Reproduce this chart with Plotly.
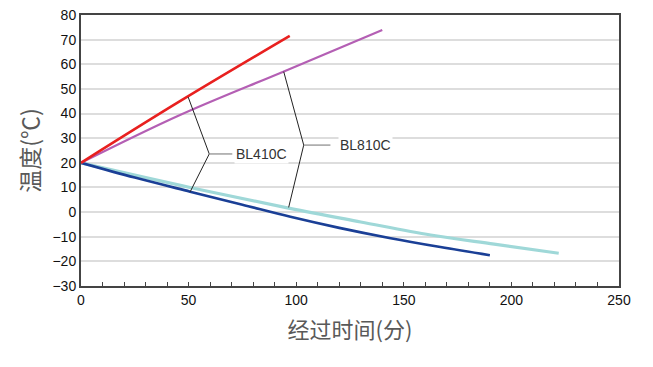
import plotly.graph_objects as go

# Data (time in minutes, temperature in °C)
bl410_heat_x = [0, 46, 97]
bl410_heat_y = [20, 45.0, 71.5]
bl810_heat_x = [0, 46, 94, 140]
bl810_heat_y = [20, 39.4, 57.0, 73.9]
bl410_cool_x = [0, 25, 50.7, 75, 97.3, 120, 143.9, 167, 190]
bl410_cool_y = [20, 14.0, 8.3, 3.0, -1.9, -6.4, -10.6, -14.2, -17.5]
bl810_cool_x = [0, 50.7, 97, 130, 162.5, 192, 222]
bl810_cool_y = [20, 10.0, 1.5, -4.0, -9.3, -13.0, -16.7]

x_ticks = [0, 50, 100, 150, 200, 250]
y_ticks = [-30, -20, -10, 0, 10, 20, 30, 40, 50, 60, 70, 80]

# leader lines (data coordinates)
lead410 = dict(vertex=(59.6, 23.6), up=(49.8, 46.7), down=(50.7, 8.2), hend=70.3, label="BL410C")
lead810 = dict(vertex=(103.5, 27.2), up=(94.2, 57.0), down=(96.5, 1.9), hend=115.9, label="BL810C")

fig = go.Figure()
fig.add_trace(go.Scatter(x=bl810_cool_x, y=bl810_cool_y, mode="lines", line_shape="spline",
                         line=dict(color="#9fd8d8", width=3.2), name="BL810C cool"))
fig.add_trace(go.Scatter(x=bl410_cool_x, y=bl410_cool_y, mode="lines", line_shape="spline",
                         line=dict(color="#1a3f96", width=2.6), name="BL410C cool"))
fig.add_trace(go.Scatter(x=bl810_heat_x, y=bl810_heat_y, mode="lines", line_shape="spline",
                         line=dict(color="#b45fb4", width=2.2), name="BL810C heat"))
fig.add_trace(go.Scatter(x=bl410_heat_x, y=bl410_heat_y, mode="lines", line_shape="spline",
                         line=dict(color="#e8201f", width=2.6), name="BL410C heat"))

shapes = []
for ld in (lead410, lead810):
    vx, vy = ld["vertex"]
    for ex, ey in (ld["up"], ld["down"]):
        shapes.append(dict(type="line", xref="x", yref="y", x0=vx, y0=vy, x1=ex, y1=ey,
                           line=dict(color="#222222", width=1)))
    shapes.append(dict(type="line", xref="x", yref="y", x0=vx, y0=vy, x1=ld["hend"], y1=vy,
                       line=dict(color="#888888", width=1.2)))
fig.update_layout(shapes=shapes)

for ld, dx in ((lead410, 0.7), (lead810, 3.7)):
    fig.add_annotation(x=ld["hend"] + dx, y=ld["vertex"][1], xref="x", yref="y",
                       text=ld["label"], showarrow=False, xanchor="left", yanchor="middle",
                       font=dict(family="Liberation Sans, Arial", size=14, color="#333333"),
                       bgcolor="white", borderpad=1)

fig.update_xaxes(range=[0, 250], tickvals=x_ticks, ticks="inside", ticklen=4, tickcolor="#444",
                 minor=dict(dtick=10, ticks="inside", ticklen=4, tickcolor="#444"),
                 showgrid=False, showline=True, linecolor="#444", linewidth=2, mirror=True,
                 zeroline=False, ticklabeloverflow="allow",
                 tickfont=dict(family="Liberation Sans, Arial", size=14, color="#111"),
                 title=dict(text="经过时间(分)", standoff=16,
                            font=dict(family="Noto Sans CJK SC", size=22, color="#595959")))
fig.update_yaxes(range=[-30, 80], tickvals=y_ticks, ticks="", showgrid=True,
                 gridcolor="#dddddd", gridwidth=2, showline=True, linecolor="#444",
                 linewidth=2, mirror=True, zeroline=False, ticklabeloverflow="allow",
                 tickfont=dict(family="Liberation Sans, Arial", size=14, color="#111"),
                 title=dict(text="温度(℃)", standoff=6,
                            font=dict(family="Noto Sans CJK SC", size=23, color="#595959")))

# page has an 8px body margin, so size the figure to sit inside the 653x367 window
fig.update_layout(width=645, height=359,
                  margin=dict(l=73, r=34, t=7, b=81, autoexpand=False),
                  plot_bgcolor="white", paper_bgcolor="white", showlegend=False)

fig.write_html("out.html")
